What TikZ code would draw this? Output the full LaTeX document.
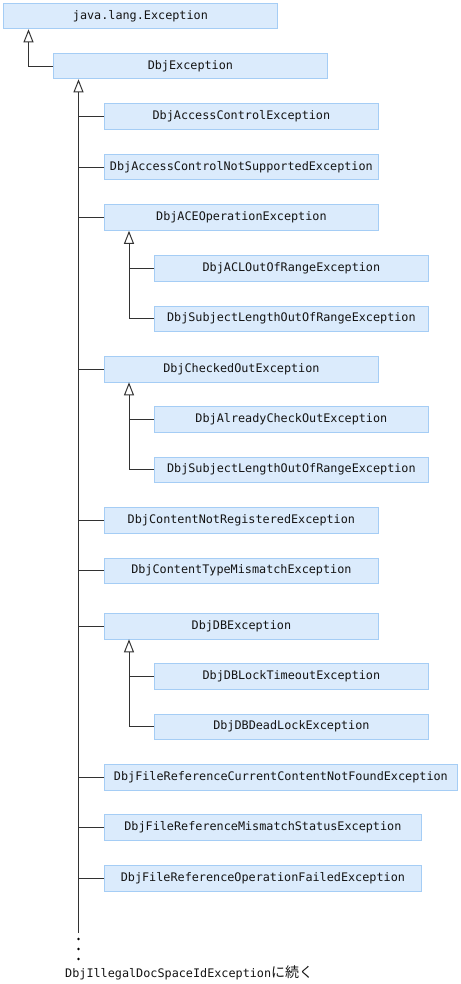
\documentclass[tikz,border=0pt]{standalone}
\usepackage{fontspec}
\setmonofont{DejaVu Sans Mono}
\newfontfamily\jpfont{Noto Sans CJK JP}
\usetikzlibrary{arrows.meta}
\definecolor{boxfill}{RGB}{219,235,252}
\definecolor{boxline}{RGB}{165,205,245}
\definecolor{lnc}{RGB}{50,50,50}
\definecolor{txt}{RGB}{20,20,20}
\begin{document}
\begin{tikzpicture}[x=1pt,y=-1pt,
  cls/.style={draw=boxline, fill=boxfill, line width=0.8pt, minimum height=25.5pt,
    inner sep=0pt, text=txt, font=\fontsize{11.8}{12}\ttfamily, anchor=north west},
  wA/.style={minimum width=274pt},
  ln/.style={draw=lnc, line width=1pt},
  inh/.style={ln, -{Triangle[open, width=10pt, length=13pt, fill=white]}}]
\useasboundingbox (0,0) rectangle (460,984);
% boxes
\node[cls, wA] (jle) at (3,3) {java.lang.Exception};
\node[cls, wA] (dbj) at (53,53) {DbjException};
\node[cls, wA] (acc) at (104,103.5) {DbjAccessControlException};
\node[cls, wA] (accns) at (104,154) {DbjAccessControlNotSupportedException};
\node[cls, wA] (ace) at (104,204.5) {DbjACEOperationException};
\node[cls, wA] (acl) at (154,255) {DbjACLOutOfRangeException};
\node[cls, wA] (sub1) at (154,305.5) {DbjSubjectLengthOutOfRangeException};
\node[cls, wA] (chk) at (104,356) {DbjCheckedOutException};
\node[cls, wA] (alr) at (154,406) {DbjAlreadyCheckOutException};
\node[cls, wA] (sub2) at (154,456.5) {DbjSubjectLengthOutOfRangeException};
\node[cls, wA] (cnr) at (104,507) {DbjContentNotRegisteredException};
\node[cls, wA] (ctm) at (104,557.5) {DbjContentTypeMismatchException};
\node[cls, wA] (db) at (104,613) {DbjDBException};
\node[cls, wA] (dblt) at (154,663) {DbjDBLockTimeoutException};
\node[cls, wA] (dbdl) at (154,713.5) {DbjDBDeadLockException};
\node[cls, minimum width=353pt] (frc) at (104,764) {DbjFileReferenceCurrentContentNotFoundException};
\node[cls, minimum width=317pt] (frm) at (104,814) {DbjFileReferenceMismatchStatusException};
\node[cls, minimum width=317pt] (fro) at (104,865) {DbjFileReferenceOperationFailedException};
% connectors
\draw[inh] (dbj.west) -| ([xshift=25.5pt]jle.south west);
\coordinate (trunk) at (78.5,933);
\draw[inh] (trunk) -- ([xshift=25.5pt]dbj.south west);
\foreach \n in {acc,accns,ace,chk,cnr,ctm,db,frc,frm,fro}
  \draw[ln] (\n.west) -- (\n.west -| trunk);
\draw[inh] (sub1.west) -| ([xshift=25pt]ace.south west);
\draw[ln] (acl.west) -- ++(-25,0);
\draw[inh] (sub2.west) -| ([xshift=25pt]chk.south west);
\draw[ln] (alr.west) -- ++(-25,0);
\draw[inh] (dbdl.west) -| ([xshift=25pt]db.south west);
\draw[ln] (dblt.west) -- ++(-25,0);
% continuation
\foreach \yy/\nm in {939/d1,949/d2,959/d3}
  \node[circle, fill=black, inner sep=0pt, minimum size=2.6pt] (\nm) at (78.5,\yy) {};
\node[anchor=base west, inner sep=0pt, text=txt, font=\fontsize{11.8}{12}\ttfamily] (cont) at (65,977)
  {DbjIllegalDocSpaceIdException{\fontsize{14}{15}\jpfont に続く}};
\end{tikzpicture}
\end{document}
